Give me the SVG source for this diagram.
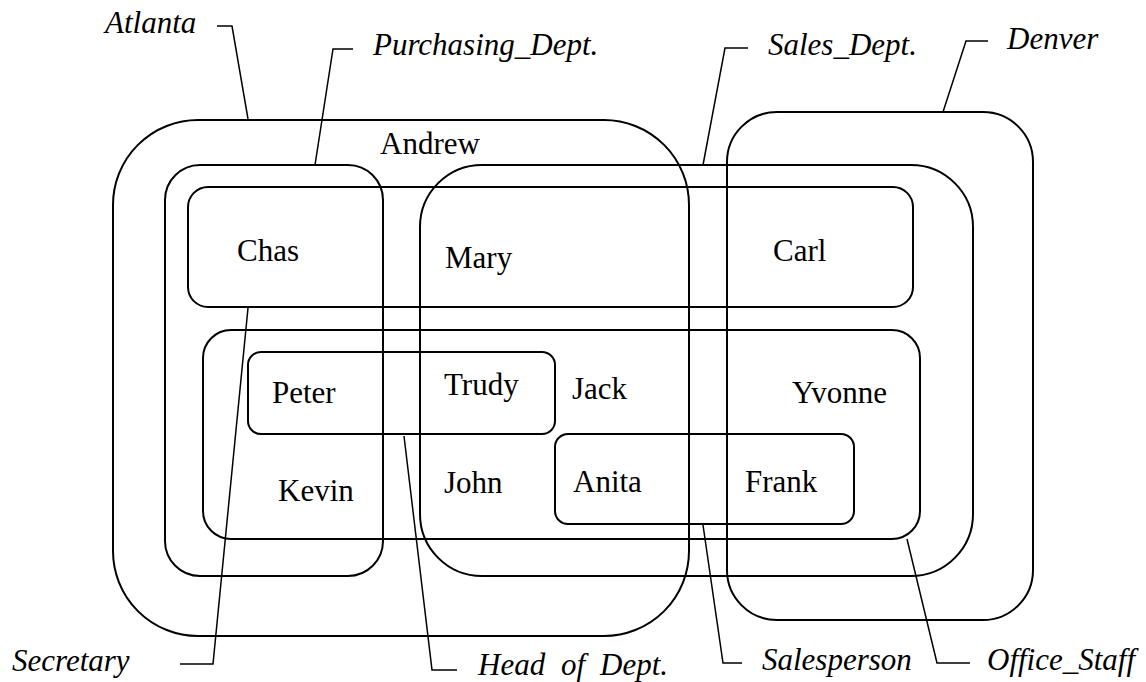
<svg xmlns="http://www.w3.org/2000/svg" width="1146" height="682" viewBox="0 0 1146 682">
<style>
.box{fill:none;stroke:#000;stroke-width:2}
.lead{fill:none;stroke:#000;stroke-width:1.5}
.lbl{font-family:"Liberation Serif","Times New Roman",serif;font-style:italic;font-size:31px;fill:#000}
.nm{font-family:"Liberation Serif","Times New Roman",serif;font-size:31px;fill:#000}
</style>
<rect width="1146" height="682" fill="#fff"/>
<g id="atlanta"><rect class="box" x="113" y="120" width="576" height="516" rx="85" ry="85"/><text class="lbl" x="105" y="33">Atlanta</text></g>
<g id="denver"><rect class="box" x="727" y="112" width="306" height="508" rx="50" ry="50"/><text class="lbl" x="1007" y="49">Denver</text></g>
<g id="purchasing_dept"><rect class="box" x="165" y="165" width="218" height="411" rx="35" ry="35"/><text class="lbl" x="373" y="55">Purchasing_Dept.</text></g>
<g id="sales_dept"><rect class="box" x="420" y="165" width="553" height="411" rx="62" ry="62"/><text class="lbl" x="768" y="55">Sales_Dept.</text></g>
<g id="secretary"><rect class="box" x="188" y="187" width="725" height="120" rx="20" ry="20"/><text class="lbl" x="12" y="671">Secretary</text></g>
<g id="office_staff"><rect class="box" x="203" y="330" width="717" height="209" rx="28" ry="28"/><text class="lbl" x="987" y="670">Office_Staff</text></g>
<g id="head_of_dept"><rect class="box" x="248" y="352" width="307" height="82" rx="13" ry="13"/><text class="lbl" y="675"><tspan x="478">Head</tspan><tspan x="561">of</tspan><tspan x="600">Dept.</tspan></text></g>
<g id="salesperson"><rect class="box" x="555" y="434" width="299" height="90" rx="13" ry="13"/><text class="lbl" x="762" y="670">Salesperson</text></g>
<g id="people">
<text class="nm" x="380" y="154">Andrew</text>
<text class="nm" x="237" y="261">Chas</text>
<text class="nm" x="445" y="268">Mary</text>
<text class="nm" x="773" y="261">Carl</text>
<text class="nm" x="272" y="403">Peter</text>
<text class="nm" x="444" y="395">Trudy</text>
<text class="nm" x="572" y="399">Jack</text>
<text class="nm" x="792" y="403">Yvonne</text>
<text class="nm" x="278" y="501">Kevin</text>
<text class="nm" x="444" y="493">John</text>
<text class="nm" x="573" y="492">Anita</text>
<text class="nm" x="745" y="492">Frank</text>
</g>
<g id="connectors">
<polyline class="lead" points="217,26 232,26 248,119"/>
<polyline class="lead" points="353,49 333,49 315,165"/>
<polyline class="lead" points="748,48 725,48 703,165"/>
<polyline class="lead" points="988,41 966,41 943,112"/>
<polyline class="lead" points="180,664 213,664 248,308"/>
<polyline class="lead" points="457,670 432,670 404,436"/>
<polyline class="lead" points="742,663 723,663 703,525"/>
<polyline class="lead" points="970,663 937,663 907,539"/>
</g>
</svg>
